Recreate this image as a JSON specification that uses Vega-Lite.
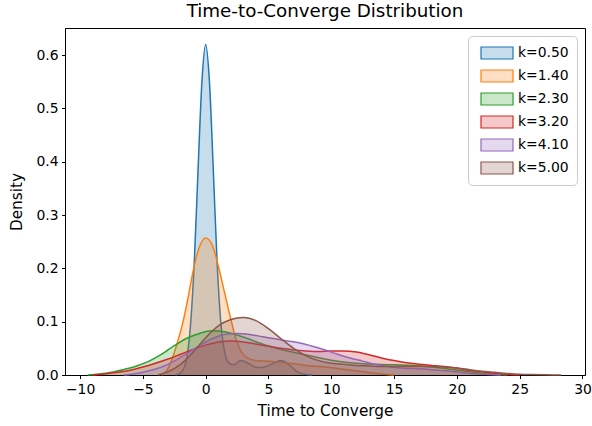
{
  "$schema": "https://vega.github.io/schema/vega-lite/v6.json",
  "width": 520,
  "height": 347,
  "autosize": {"type": "none"},
  "padding": {"left": 65, "top": 28, "right": 7, "bottom": 51},
  "title": {"text": "Time-to-Converge Distribution", "font": "DejaVu Sans", "fontSize": 18.3, "fontWeight": "normal", "color": "#000", "offset": 7, "frame": "group", "anchor": "middle"},
  "config": {
    "font": "DejaVu Sans",
    "view": {"stroke": "#000", "strokeWidth": 1},
    "axis": {"grid": false, "domainColor": "#000", "tickColor": "#000", "labelColor": "#000", "titleColor": "#000", "labelFontSize": 13.9, "titleFontSize": 15.3, "titleFontWeight": "normal", "tickSize": 3.5, "labelPadding": 3.5, "labelFont": "DejaVu Sans", "titleFont": "DejaVu Sans"}
  },
  "data": {"values": [
    {"k":"k=0.50","t":-2.4,"d":0},{"k":"k=0.50","t":-2.0,"d":0.004},{"k":"k=0.50","t":-1.6,"d":0.022},{"k":"k=0.50","t":-1.2,"d":0.096},{"k":"k=0.50","t":-0.9,"d":0.216},{"k":"k=0.50","t":-0.6,"d":0.389},{"k":"k=0.50","t":-0.3,"d":0.55},{"k":"k=0.50","t":0,"d":0.62},{"k":"k=0.50","t":0.3,"d":0.55},{"k":"k=0.50","t":0.6,"d":0.389},{"k":"k=0.50","t":0.9,"d":0.216},{"k":"k=0.50","t":1.2,"d":0.1},{"k":"k=0.50","t":1.5,"d":0.045},{"k":"k=0.50","t":1.8,"d":0.024},{"k":"k=0.50","t":2.2,"d":0.019},{"k":"k=0.50","t":2.8,"d":0.027},{"k":"k=0.50","t":3.4,"d":0.022},{"k":"k=0.50","t":3.9,"d":0.015},{"k":"k=0.50","t":4.5,"d":0.014},{"k":"k=0.50","t":5.2,"d":0.02},{"k":"k=0.50","t":6.0,"d":0.027},{"k":"k=0.50","t":6.7,"d":0.018},{"k":"k=0.50","t":7.3,"d":0.006},{"k":"k=0.50","t":8.0,"d":0.001},{"k":"k=0.50","t":8.5,"d":0},
    {"k":"k=1.40","t":-3.5,"d":0},{"k":"k=1.40","t":-3.0,"d":0.012},{"k":"k=1.40","t":-2.6,"d":0.035},{"k":"k=1.40","t":-2.2,"d":0.065},{"k":"k=1.40","t":-1.8,"d":0.1},{"k":"k=1.40","t":-1.4,"d":0.145},{"k":"k=1.40","t":-1.0,"d":0.195},{"k":"k=1.40","t":-0.5,"d":0.24},{"k":"k=1.40","t":0,"d":0.257},{"k":"k=1.40","t":0.5,"d":0.245},{"k":"k=1.40","t":1.0,"d":0.205},{"k":"k=1.40","t":1.5,"d":0.155},{"k":"k=1.40","t":2.0,"d":0.105},{"k":"k=1.40","t":2.4,"d":0.068},{"k":"k=1.40","t":2.8,"d":0.045},{"k":"k=1.40","t":3.3,"d":0.032},{"k":"k=1.40","t":4.0,"d":0.027},{"k":"k=1.40","t":5.0,"d":0.026},{"k":"k=1.40","t":6.0,"d":0.024},{"k":"k=1.40","t":7.0,"d":0.021},{"k":"k=1.40","t":8.0,"d":0.018},{"k":"k=1.40","t":9.5,"d":0.015},{"k":"k=1.40","t":11,"d":0.011},{"k":"k=1.40","t":12.5,"d":0.006},{"k":"k=1.40","t":14,"d":0.002},{"k":"k=1.40","t":15,"d":0},
    {"k":"k=2.30","t":-9.4,"d":0},{"k":"k=2.30","t":-8.5,"d":0.002},{"k":"k=2.30","t":-7.5,"d":0.005},{"k":"k=2.30","t":-6.5,"d":0.0105},{"k":"k=2.30","t":-5.5,"d":0.017},{"k":"k=2.30","t":-4.5,"d":0.026},{"k":"k=2.30","t":-3.5,"d":0.039},{"k":"k=2.30","t":-2.5,"d":0.055},{"k":"k=2.30","t":-1.5,"d":0.069},{"k":"k=2.30","t":-0.5,"d":0.078},{"k":"k=2.30","t":0.5,"d":0.083},{"k":"k=2.30","t":1.5,"d":0.081},{"k":"k=2.30","t":2.5,"d":0.075},{"k":"k=2.30","t":3.5,"d":0.067},{"k":"k=2.30","t":4.5,"d":0.058},{"k":"k=2.30","t":5.5,"d":0.051},{"k":"k=2.30","t":6.5,"d":0.045},{"k":"k=2.30","t":7.5,"d":0.04},{"k":"k=2.30","t":8.5,"d":0.035},{"k":"k=2.30","t":9.5,"d":0.03},{"k":"k=2.30","t":10.5,"d":0.026},{"k":"k=2.30","t":11.5,"d":0.023},{"k":"k=2.30","t":12.5,"d":0.021},{"k":"k=2.30","t":13.5,"d":0.02},{"k":"k=2.30","t":15,"d":0.019},{"k":"k=2.30","t":16.5,"d":0.018},{"k":"k=2.30","t":18,"d":0.015},{"k":"k=2.30","t":19.5,"d":0.011},{"k":"k=2.30","t":21,"d":0.006},{"k":"k=2.30","t":22.5,"d":0.002},{"k":"k=2.30","t":24,"d":0},
    {"k":"k=3.20","t":-9,"d":0},{"k":"k=3.20","t":-8,"d":0.002},{"k":"k=3.20","t":-7,"d":0.005},{"k":"k=3.20","t":-6,"d":0.009},{"k":"k=3.20","t":-5,"d":0.015},{"k":"k=3.20","t":-4,"d":0.022},{"k":"k=3.20","t":-3,"d":0.03},{"k":"k=3.20","t":-2,"d":0.039},{"k":"k=3.20","t":-1,"d":0.048},{"k":"k=3.20","t":0,"d":0.056},{"k":"k=3.20","t":1,"d":0.062},{"k":"k=3.20","t":2,"d":0.064},{"k":"k=3.20","t":3,"d":0.062},{"k":"k=3.20","t":4,"d":0.058},{"k":"k=3.20","t":5,"d":0.054},{"k":"k=3.20","t":6,"d":0.05},{"k":"k=3.20","t":7,"d":0.047},{"k":"k=3.20","t":8,"d":0.045},{"k":"k=3.20","t":9,"d":0.044},{"k":"k=3.20","t":10,"d":0.045},{"k":"k=3.20","t":11,"d":0.045},{"k":"k=3.20","t":12,"d":0.043},{"k":"k=3.20","t":13,"d":0.038},{"k":"k=3.20","t":14,"d":0.032},{"k":"k=3.20","t":15,"d":0.027},{"k":"k=3.20","t":16,"d":0.023},{"k":"k=3.20","t":17,"d":0.02},{"k":"k=3.20","t":18,"d":0.018},{"k":"k=3.20","t":19,"d":0.016},{"k":"k=3.20","t":20,"d":0.013},{"k":"k=3.20","t":21,"d":0.009},{"k":"k=3.20","t":22,"d":0.006},{"k":"k=3.20","t":23,"d":0.003},{"k":"k=3.20","t":24,"d":0.001},{"k":"k=3.20","t":25,"d":0},
    {"k":"k=4.10","t":-6.5,"d":0},{"k":"k=4.10","t":-5.5,"d":0.003},{"k":"k=4.10","t":-4.5,"d":0.008},{"k":"k=4.10","t":-3.5,"d":0.015},{"k":"k=4.10","t":-2.5,"d":0.026},{"k":"k=4.10","t":-1.5,"d":0.04},{"k":"k=4.10","t":-0.5,"d":0.055},{"k":"k=4.10","t":0.5,"d":0.068},{"k":"k=4.10","t":1.5,"d":0.076},{"k":"k=4.10","t":2.5,"d":0.078},{"k":"k=4.10","t":3.5,"d":0.076},{"k":"k=4.10","t":4.5,"d":0.072},{"k":"k=4.10","t":5.5,"d":0.068},{"k":"k=4.10","t":6.5,"d":0.064},{"k":"k=4.10","t":7.5,"d":0.06},{"k":"k=4.10","t":8.5,"d":0.054},{"k":"k=4.10","t":9.5,"d":0.047},{"k":"k=4.10","t":10.5,"d":0.039},{"k":"k=4.10","t":11.5,"d":0.032},{"k":"k=4.10","t":12.5,"d":0.026},{"k":"k=4.10","t":13.5,"d":0.02},{"k":"k=4.10","t":14.5,"d":0.016},{"k":"k=4.10","t":15.5,"d":0.013},{"k":"k=4.10","t":16.5,"d":0.012},{"k":"k=4.10","t":18,"d":0.01},{"k":"k=4.10","t":19.5,"d":0.007},{"k":"k=4.10","t":21,"d":0.003},{"k":"k=4.10","t":22.5,"d":0.001},{"k":"k=4.10","t":23.5,"d":0},
    {"k":"k=5.00","t":-3.8,"d":0},{"k":"k=5.00","t":-3,"d":0.006},{"k":"k=5.00","t":-2,"d":0.02},{"k":"k=5.00","t":-1,"d":0.043},{"k":"k=5.00","t":0,"d":0.07},{"k":"k=5.00","t":1,"d":0.092},{"k":"k=5.00","t":2,"d":0.104},{"k":"k=5.00","t":3,"d":0.108},{"k":"k=5.00","t":4,"d":0.102},{"k":"k=5.00","t":5,"d":0.087},{"k":"k=5.00","t":6,"d":0.068},{"k":"k=5.00","t":7,"d":0.05},{"k":"k=5.00","t":8,"d":0.036},{"k":"k=5.00","t":9,"d":0.027},{"k":"k=5.00","t":10,"d":0.022},{"k":"k=5.00","t":11,"d":0.02},{"k":"k=5.00","t":12,"d":0.018},{"k":"k=5.00","t":13,"d":0.017},{"k":"k=5.00","t":14,"d":0.016},{"k":"k=5.00","t":15,"d":0.016},{"k":"k=5.00","t":16,"d":0.016},{"k":"k=5.00","t":17,"d":0.016},{"k":"k=5.00","t":18,"d":0.016},{"k":"k=5.00","t":19,"d":0.015},{"k":"k=5.00","t":20,"d":0.013},{"k":"k=5.00","t":21,"d":0.01},{"k":"k=5.00","t":22,"d":0.007},{"k":"k=5.00","t":23,"d":0.005},{"k":"k=5.00","t":24,"d":0.003},{"k":"k=5.00","t":25,"d":0.0015},{"k":"k=5.00","t":26,"d":0.0008},{"k":"k=5.00","t":27,"d":0.0003},{"k":"k=5.00","t":28.3,"d":0}
  ]},
  "encoding": {
    "x": {"field": "t", "type": "quantitative", "title": "Time to Converge",
          "scale": {"domain": [-11.2, 30.2], "nice": false, "zero": false},
          "axis": {"values": [-10, -5, 0, 5, 10, 15, 20, 25, 30], "format": "d", "titlePadding": 8}},
    "y": {"field": "d", "type": "quantitative", "title": "Density", "stack": null,
          "scale": {"domain": [0, 0.651], "nice": false},
          "axis": {"values": [0, 0.1, 0.2, 0.3, 0.4, 0.5, 0.6], "format": ".1f", "titlePadding": 11}},
    "color": {"field": "k", "type": "nominal", "title": null,
              "scale": {"domain": ["k=0.50","k=1.40","k=2.30","k=3.20","k=4.10","k=5.00"],
                        "range": ["#1f77b4","#ff7f0e","#2ca02c","#d62728","#9467bd","#8c564b"]},
              "legend": {"orient": "top-right", "offset": 8, "padding": 8, "strokeColor": "#cccccc", "cornerRadius": 4, "fillColor": "#ffffff",
                         "symbolType": "M-2,-0.75L2,-0.75L2,0.75L-2,0.75Z", "symbolSize": 256, "symbolStrokeWidth": 1.2, "symbolOffset": 12,
                         "labelFontSize": 13.9, "labelFont": "DejaVu Sans", "labelColor": "#000", "rowPadding": 5, "labelOffset": 12,
                         "encode": {"symbols": {"update": {"fill": {"scale": "color", "field": "value"}, "stroke": {"scale": "color", "field": "value"}, "fillOpacity": {"value": 0.25}, "strokeOpacity": {"value": 1}, "opacity": {"value": 1}}}}}}
  },
  "layer": [
    {"transform": [{"filter": "datum.k === 'k=0.50'"}], "mark": {"type": "area", "interpolate": "monotone", "fillOpacity": 0.25}},
    {"transform": [{"filter": "datum.k === 'k=0.50'"}], "mark": {"type": "line", "interpolate": "monotone", "strokeWidth": 1.5}},
    {"transform": [{"filter": "datum.k === 'k=1.40'"}], "mark": {"type": "area", "interpolate": "monotone", "fillOpacity": 0.25}},
    {"transform": [{"filter": "datum.k === 'k=1.40'"}], "mark": {"type": "line", "interpolate": "monotone", "strokeWidth": 1.5}},
    {"transform": [{"filter": "datum.k === 'k=2.30'"}], "mark": {"type": "area", "interpolate": "monotone", "fillOpacity": 0.25}},
    {"transform": [{"filter": "datum.k === 'k=2.30'"}], "mark": {"type": "line", "interpolate": "monotone", "strokeWidth": 1.5}},
    {"transform": [{"filter": "datum.k === 'k=3.20'"}], "mark": {"type": "area", "interpolate": "monotone", "fillOpacity": 0.25}},
    {"transform": [{"filter": "datum.k === 'k=3.20'"}], "mark": {"type": "line", "interpolate": "monotone", "strokeWidth": 1.5}},
    {"transform": [{"filter": "datum.k === 'k=4.10'"}], "mark": {"type": "area", "interpolate": "monotone", "fillOpacity": 0.25}},
    {"transform": [{"filter": "datum.k === 'k=4.10'"}], "mark": {"type": "line", "interpolate": "monotone", "strokeWidth": 1.5}},
    {"transform": [{"filter": "datum.k === 'k=5.00'"}], "mark": {"type": "area", "interpolate": "monotone", "fillOpacity": 0.25}},
    {"transform": [{"filter": "datum.k === 'k=5.00'"}], "mark": {"type": "line", "interpolate": "monotone", "strokeWidth": 1.5}}
  ]
}
